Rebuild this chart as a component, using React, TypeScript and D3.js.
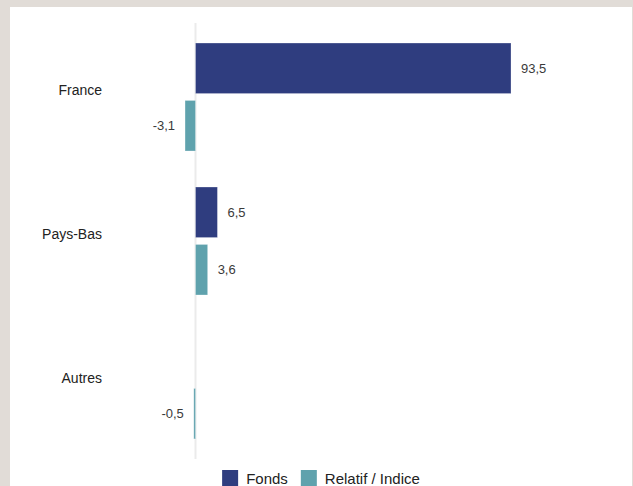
import React, { useEffect, useRef } from "react";
import * as d3 from "d3";

const categories = ["France", "Pays-Bas", "Autres"];
const seriesNames = ["Fonds", "Relatif / Indice"];
const fondsValues: (number | null)[] = [93.5, 6.5, null];
const relatifValues: (number | null)[] = [-3.1, 3.6, -0.5];
const seriesColors = ["#2f3d7f", "#5fa2ad"];

const W = 633;
const H = 486;

export default function App() {
  const ref = useRef<SVGSVGElement>(null);

  useEffect(() => {
    const svg = d3.select(ref.current);
    svg.selectAll("*").remove();

    svg.append("rect").attr("x", 0).attr("y", 0).attr("width", W).attr("height", H).attr("fill", "#e1dcd7");
    svg.append("rect").attr("x", 10).attr("y", 7).attr("width", 622).attr("height", H).attr("fill", "#ffffff");

    const x = d3.scaleLinear().domain([0, 93.5]).range([195.5, 511]);
    const y = d3.scaleBand<string>().domain(categories).range([23, 459]).paddingInner(0.25).paddingOuter(0.139);
    const ySub = d3.scaleBand<string>().domain(seriesNames).range([0, y.bandwidth()]).paddingInner(0.12);

    // zero axis line
    svg.append("line")
      .attr("x1", x(0)).attr("x2", x(0))
      .attr("y1", y.range()[0]).attr("y2", y.range()[1])
      .attr("stroke", "#ebebeb").attr("stroke-width", 2);

    const series = [fondsValues, relatifValues];
    const font = "'Liberation Sans', Arial, Helvetica, sans-serif";

    series.forEach((vals, si) => {
      vals.forEach((v, ci) => {
        if (v === null) return;
        const cat = categories[ci];
        const y0 = (y(cat) as number) + (ySub(seriesNames[si]) as number);
        const bw = ySub.bandwidth();
        const xa = x(Math.min(0, v));
        const xb = x(Math.max(0, v));
        svg.append("rect")
          .attr("x", xa).attr("y", y0)
          .attr("width", Math.max(1.5, xb - xa)).attr("height", bw)
          .attr("fill", seriesColors[si])
          .attr("stroke", "rgba(255,255,255,0.35)").attr("stroke-width", 0.8);
        const label = d3.format(".1f")(v).replace(".", ",").replace("\u2212", "-");
        const neg = v < 0;
        svg.append("text")
          .attr("x", neg ? x(v) - 10 : x(v) + 10)
          .attr("y", y0 + bw / 2)
          .attr("text-anchor", neg ? "end" : "start")
          .attr("dominant-baseline", "central")
          .attr("font-family", font).attr("font-size", 13)
          .attr("fill", "#3a3a3a")
          .text(label);
      });
    });

    categories.forEach((c) => {
      svg.append("text")
        .attr("x", 102)
        .attr("y", (y(c) as number) + y.bandwidth() / 2 - 7)
        .attr("text-anchor", "end")
        .attr("dominant-baseline", "central")
        .attr("font-family", font).attr("font-size", 14)
        .attr("fill", "#222")
        .text(c);
    });

    // legend
    const lg = svg.append("g");
    let cx = 0;
    seriesNames.forEach((s, i) => {
      lg.append("rect").attr("x", cx).attr("y", 470).attr("width", 16).attr("height", 16).attr("fill", seriesColors[i]);
      const t = lg.append("text")
        .attr("x", cx + 24).attr("y", 478)
        .attr("dominant-baseline", "central")
        .attr("font-family", font).attr("font-size", 15)
        .attr("fill", "#222")
        .text(s);
      const w = (t.node() as SVGTextElement).getComputedTextLength();
      cx += 24 + w + 13;
    });
    const total = cx - 13;
    lg.attr("transform", `translate(${321 - total / 2},0)`);
  }, []);

  return (
    <div style={{ position: "fixed", left: 0, top: 0, width: W, height: H }}>
      <svg ref={ref} width={W} height={H} style={{ display: "block" }} />
    </div>
  );
}
